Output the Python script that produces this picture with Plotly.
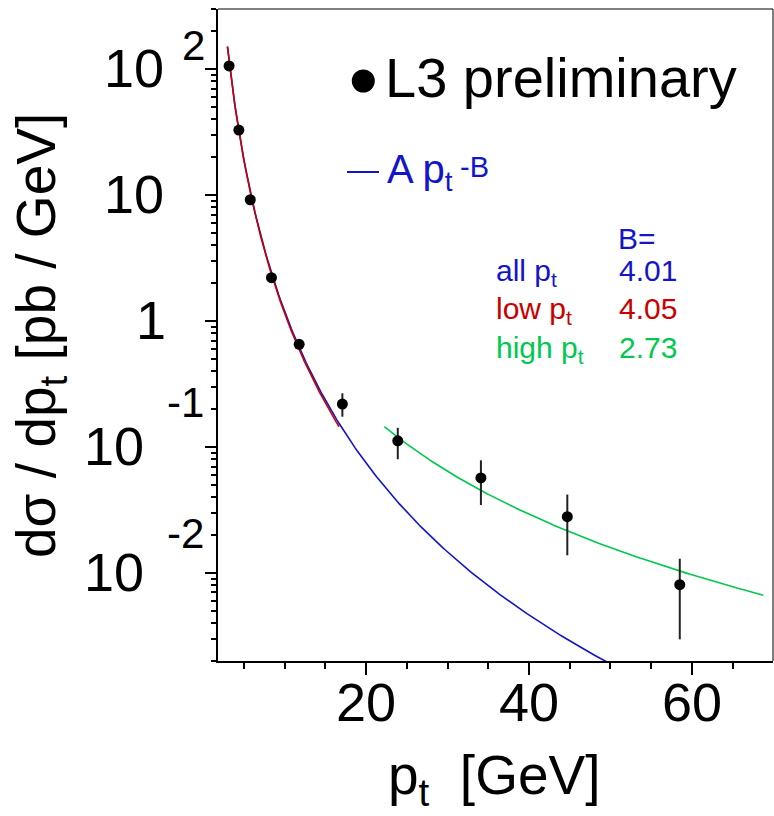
import numpy as np
import plotly.graph_objects as go

# ---------------- data ----------------
pt = [3.2, 4.4, 5.8, 8.4, 11.8, 17.1, 23.9, 34.1, 44.7, 58.5]
xsec = [106, 32.8, 9.18, 2.21, 0.653, 0.219, 0.112, 0.0568, 0.028, 0.00807]
err_up = [4.0, 1.4, 0.4, 0.1, 0.035, 0.048, 0.030, 0.0216, 0.0139, 0.0049]
err_dn = [4.0, 1.4, 0.4, 0.1, 0.035, 0.045, 0.032, 0.0222, 0.0142, 0.0051]

# power-law fits  A * pt^-B
fit_labels = ["all p<sub>t</sub>", "low p<sub>t</sub>", "high p<sub>t</sub>"]
fit_A = [12300.0, 12970.0, 691.0]
fit_B = [4.01, 4.05, 2.73]
fit_lo = [3.0, 3.0, 22.25]
fit_hi = [70.0, 16.7, 68.75]
fit_colors = ["#1414c8", "#c80000", "#00c850"]

x_ticks = [20, 40, 60]
y_ticks = [0.01, 0.1, 1, 10, 100]

# ---------------- layout geometry ----------------
W, H = 774, 816
L, R, T, B = 218, 773, 9, 661
PW, PH = R - L, B - T


def px_x(p):
    return (p - L) / PW


def px_y(p):
    return (B - p) / PH


FONT = "Liberation Sans, Arial, Helvetica, sans-serif"

fig = go.Figure()

# fit curves
for A, Bexp, lo, hi, col in zip(fit_A, fit_B, fit_lo, fit_hi, fit_colors):
    xs = np.linspace(lo, hi, 300)
    fig.add_trace(go.Scatter(x=xs, y=A * xs ** (-Bexp), mode="lines",
                             line=dict(color=col, width=1.6),
                             showlegend=False, hoverinfo="skip"))

# data points
fig.add_trace(go.Scatter(
    x=pt, y=xsec, mode="markers",
    marker=dict(color="black", size=11),
    error_y=dict(type="data", symmetric=False, array=err_up, arrayminus=err_dn,
                 color="#222222", thickness=2, width=0),
    showlegend=False))

ann = []

# x tick labels
for v in x_ticks:
    ann.append(dict(text=str(v), xref="x", yref="paper", x=v, y=px_y(671),
                    xanchor="center", yanchor="top", showarrow=False,
                    borderpad=0, font=dict(family=FONT, size=54, color="black")))

# y tick labels (ROOT style 10 + exponent)
ten_right = {100: 165, 10: 165, 1: 167, 0.1: 145, 0.01: 145}
exp_text = {100: "2", 0.1: "-1", 0.01: "-2"}
exp_left = {100: 181, 0.1: 166, 0.01: 166}
exp_shift = {100: 24, 0.1: 44, 0.01: 39}
for v in y_ticks:
    ann.append(dict(text="1" if v == 1 else "10", xref="paper", yref="y",
                    x=px_x(ten_right[v]), y=np.log10(v), xanchor="right",
                    yanchor="middle", yshift=1, showarrow=False, borderpad=0,
                    font=dict(family=FONT, size=54, color="black")))
    if v in exp_text:
        ann.append(dict(text=exp_text[v], xref="paper", yref="y",
                        x=px_x(exp_left[v]), y=np.log10(v), xanchor="left",
                        yanchor="middle", yshift=exp_shift[v], showarrow=False,
                        borderpad=0, font=dict(family=FONT, size=42, color="black")))

# axis titles
ann.append(dict(text="p<sub>t</sub>&nbsp; [GeV]", xref="paper", yref="paper",
                x=px_x(494), y=px_y(743), xanchor="center", yanchor="top",
                showarrow=False, borderpad=0,
                font=dict(family=FONT, size=55, color="black")))
ann.append(dict(text="dσ / dp<sub>t</sub> [pb / GeV]", xref="paper", yref="paper",
                x=px_x(40), y=px_y(336), xanchor="center", yanchor="middle",
                textangle=-90, showarrow=False, borderpad=0,
                font=dict(family=FONT, size=55, color="black")))

# legend-like labels
ann.append(dict(text="L3 preliminary", xref="paper", yref="paper",
                x=px_x(384), y=px_y(45), xanchor="left", yanchor="top",
                showarrow=False, borderpad=0,
                font=dict(family=FONT, size=56, color="black")))
ann.append(dict(text="A p<sub>t</sub>", xref="paper", yref="paper",
                x=px_x(386), y=px_y(146.5), xanchor="left", yanchor="top",
                showarrow=False, borderpad=0,
                font=dict(family=FONT, size=40, color=fit_colors[0])))
ann.append(dict(text="-B", xref="paper", yref="paper",
                x=px_x(459), y=px_y(150), xanchor="left", yanchor="top",
                showarrow=False, borderpad=0,
                font=dict(family=FONT, size=29, color=fit_colors[0])))

# B table
ann.append(dict(text="B=", xref="paper", yref="paper",
                x=px_x(617), y=px_y(220.8), xanchor="left", yanchor="top",
                showarrow=False, borderpad=0,
                font=dict(family=FONT, size=30, color=fit_colors[0])))
row_base = [281.7, 320.0, 359.3]
for lab, Bexp, col, yb in zip(fit_labels, fit_B, fit_colors, row_base):
    ann.append(dict(text=lab, xref="paper", yref="paper",
                    x=px_x(495), y=px_y(yb - 29.2), xanchor="left", yanchor="top",
                    showarrow=False, borderpad=0,
                    font=dict(family=FONT, size=30, color=col)))
    ann.append(dict(text=f"{Bexp:.2f}", xref="paper", yref="paper",
                    x=px_x(618), y=px_y(yb - 29.2), xanchor="left", yanchor="top",
                    showarrow=False, borderpad=0,
                    font=dict(family=FONT, size=30, color=col)))

shapes = [
    # thin top/right frame
    dict(type="line", xref="paper", yref="paper", x0=0, x1=1, y0=1, y1=1,
         line=dict(color="black", width=1)),
    dict(type="line", xref="paper", yref="paper", x0=1, x1=1, y0=0, y1=1,
         line=dict(color="black", width=1)),
    # legend marker and line
    dict(type="circle", xref="paper", yref="paper",
         x0=px_x(351.8), x1=px_x(374.8), y0=px_y(92.5), y1=px_y(69.5),
         fillcolor="black", line=dict(color="black", width=0)),
    dict(type="line", xref="paper", yref="paper",
         x0=px_x(347), x1=px_x(379), y0=px_y(172), y1=px_y(172),
         line=dict(color=fit_colors[0], width=2)),
]

fig.update_layout(
    width=W, height=H,
    margin=dict(l=L, r=W - R, t=T, b=H - B),
    paper_bgcolor="white", plot_bgcolor="white",
    annotations=ann, shapes=shapes,
    xaxis=dict(range=[1.84, 69.94], tickvals=x_ticks, showticklabels=False,
               ticks="outside", ticklen=12, tickwidth=2, tickcolor="black",
               showline=True, linewidth=2, linecolor="black",
               showgrid=False, zeroline=False,
               minor=dict(dtick=5, ticks="outside", ticklen=6, tickwidth=1.5,
                          tickcolor="black", showgrid=False)),
    yaxis=dict(type="log", range=[np.log10(0.002), np.log10(300)],
               tickvals=y_ticks, showticklabels=False, ticks="outside",
               ticklen=11, tickwidth=2, tickcolor="black",
               showline=True, linewidth=2, linecolor="black",
               showgrid=False, zeroline=False,
               minor=dict(dtick="D1", ticks="outside", ticklen=5, tickwidth=1.5,
                          tickcolor="black", showgrid=False)),
)

fig.write_html("out.html")
